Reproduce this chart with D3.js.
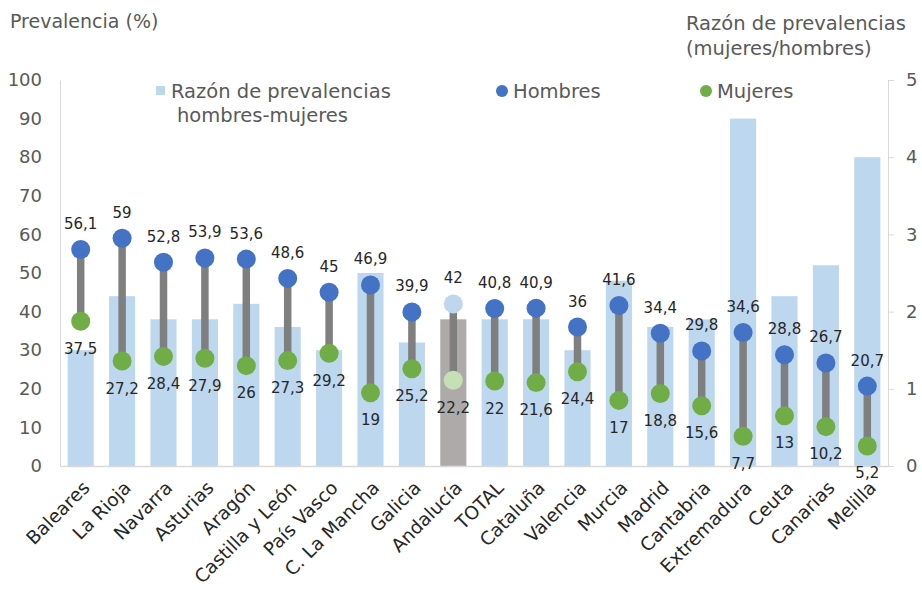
<!DOCTYPE html>
<html>
<head>
<meta charset="utf-8">
<script src="https://cdn.jsdelivr.net/npm/d3@7"></script>
<style>
  body { margin: 0; background: #fff; }
  text { font-family: "DejaVu Sans", sans-serif; }
</style>
</head>
<body>
<div id="chart"></div>
<script>
const categories = ['Baleares', 'La Rioja', 'Navarra', 'Asturias', 'Aragón', 'Castilla y León',
  'País Vasco', 'C. La Mancha', 'Galicia', 'Andalucía', 'TOTAL', 'Cataluña', 'Valencia',
  'Murcia', 'Madrid', 'Cantabria', 'Extremadura', 'Ceuta', 'Canarias', 'Melilla']
const hombres = [56.1, 59, 52.8, 53.9, 53.6, 48.6, 45, 46.9, 39.9, 42, 40.8, 40.9, 36, 41.6, 34.4, 29.8, 34.6, 28.8, 26.7, 20.7]
const mujeres = [37.5, 27.2, 28.4, 27.9, 26, 27.3, 29.2, 19, 25.2, 22.2, 22, 21.6, 24.4, 17, 18.8, 15.6, 7.7, 13, 10.2, 5.2]
const razon = [1.5, 2.2, 1.9, 1.9, 2.1, 1.8, 1.5, 2.5, 1.6, 1.9, 1.9, 1.9, 1.5, 2.4, 1.8, 1.9, 4.5, 2.2, 2.6, 4.0]
const leftTicks = [0, 10, 20, 30, 40, 50, 60, 70, 80, 90, 100]
const rightTicks = [0, 1, 2, 3, 4, 5]
const highlight = 'Andalucía'

const W = 922, H = 590
const PLOT = { LEFT: 60, RIGHT: 888, TOP: 80, BOTTOM: 466 }

const svg = d3.select('#chart').append('svg')
  .attr('width', W).attr('height', H)

const x = d3.scaleBand()
  .domain(categories)
  .range([PLOT.LEFT, PLOT.RIGHT])
  .paddingInner(0.37)
  .paddingOuter(0.185)

const yL = d3.scaleLinear().domain([0, 100]).range([PLOT.BOTTOM, PLOT.TOP])
const yR = d3.scaleLinear().domain([0, 5]).range([PLOT.BOTTOM, PLOT.TOP])

const data = categories.map((c, i) => ({ name: c, h: hombres[i], m: mujeres[i], r: razon[i] }))
const cx = d => x(d.name) + x.bandwidth() / 2

// bars (ratio, right axis)
svg.append('g').selectAll('rect')
  .data(data)
  .enter().append('rect')
    .attr('x', d => x(d.name))
    .attr('y', d => yR(d.r))
    .attr('width', x.bandwidth())
    .attr('height', d => PLOT.BOTTOM - yR(d.r))
    .attr('fill', d => d.name === highlight ? '#aeaaaa' : '#bdd7ee')

// axes
const leftAxis = svg.append('g')
  .attr('transform', `translate(${PLOT.LEFT},0)`)
  .call(d3.axisLeft(yL).tickValues(leftTicks).tickSize(0).tickPadding(18))
leftAxis.select('.domain').attr('stroke', '#d9d9d9')
leftAxis.selectAll('text').attr('fill', '#595959').style('font-size', '18px')
  .style('font-family', '"DejaVu Sans", sans-serif')

const rightAxis = svg.append('g')
  .attr('transform', `translate(${PLOT.RIGHT},0)`)
  .call(d3.axisRight(yR).tickValues(rightTicks).tickFormat(d3.format('d'))
    .tickSize(6).tickSizeOuter(0).tickPadding(12))
rightAxis.select('.domain').attr('stroke', '#d9d9d9')
rightAxis.selectAll('line').attr('stroke', '#d9d9d9')
rightAxis.selectAll('text').attr('fill', '#595959').style('font-size', '18px')
  .style('font-family', '"DejaVu Sans", sans-serif')

const bottomAxis = svg.append('g')
  .attr('transform', `translate(0,${PLOT.BOTTOM})`)
  .call(d3.axisBottom(x).tickSize(0))
bottomAxis.select('.domain').attr('stroke', '#d9d9d9').attr('stroke-width', 1.5)
bottomAxis.selectAll('text')
  .attr('fill', '#262626')
  .style('font-size', '18.5px')
  .style('font-family', '"DejaVu Sans", sans-serif')
  .attr('text-anchor', 'end')
  .attr('x', 0).attr('y', 0).attr('dy', null)
  .attr('transform', 'translate(10,23) rotate(-45)')

// connectors
svg.append('g').selectAll('line')
  .data(data)
  .enter().append('line')
    .attr('x1', cx).attr('x2', cx)
    .attr('y1', d => yL(d.h)).attr('y2', d => yL(d.m))
    .attr('stroke', '#7f7f7f')
    .attr('stroke-width', 7.5)

// dots
svg.append('g').selectAll('circle')
  .data(data)
  .enter().append('circle')
    .attr('cx', cx).attr('cy', d => yL(d.m)).attr('r', 9.5)
    .attr('fill', d => d.name === highlight ? '#c5e0b4' : '#70ad47')
svg.append('g').selectAll('circle')
  .data(data)
  .enter().append('circle')
    .attr('cx', cx).attr('cy', d => yL(d.h)).attr('r', 9.5)
    .attr('fill', d => d.name === highlight ? '#bdd7ee' : '#4472c4')

const fmt = v => String(v).replace('.', ',')

// value labels
svg.append('g').selectAll('text')
  .data(data)
  .enter().append('text')
    .attr('x', cx).attr('y', d => yL(d.h) - 25)
    .attr('text-anchor', 'middle').attr('dominant-baseline', 'middle')
    .attr('fill', '#262626').style('font-size', '15px')
    .text(d => fmt(d.h))
svg.append('g').selectAll('text')
  .data(data)
  .enter().append('text')
    .attr('x', cx).attr('y', d => yL(d.m) + 28)
    .attr('text-anchor', 'middle').attr('dominant-baseline', 'middle')
    .attr('fill', '#262626').style('font-size', '15px')
    .text(d => fmt(d.m))

// titles
svg.append('text')
  .attr('x', 10).attr('y', 28)
  .attr('fill', '#595959').style('font-size', '19px')
  .text('Prevalencia (%)')
svg.append('text')
  .attr('x', 686).attr('y', 30)
  .attr('fill', '#595959').style('font-size', '19.5px')
  .text('Razón de prevalencias')
svg.append('text')
  .attr('x', 686).attr('y', 55)
  .attr('fill', '#595959').style('font-size', '19.5px')
  .text('(mujeres/hombres)')

// legend
const legend = svg.append('g').attr('fill', '#595959').style('font-size', '19.5px')
legend.append('rect').attr('x', 156).attr('y', 86).attr('width', 9).attr('height', 9).attr('fill', '#bdd7ee')
legend.append('text').attr('x', 171).attr('y', 98).text('Razón de prevalencias')
legend.append('text').attr('x', 177).attr('y', 122).text('hombres-mujeres')
legend.append('circle').attr('cx', 502).attr('cy', 91).attr('r', 6).attr('fill', '#4472c4')
legend.append('text').attr('x', 513).attr('y', 98).text('Hombres')
legend.append('circle').attr('cx', 706).attr('cy', 91).attr('r', 6).attr('fill', '#70ad47')
legend.append('text').attr('x', 717).attr('y', 98).text('Mujeres')
</script>
</body>
</html>
